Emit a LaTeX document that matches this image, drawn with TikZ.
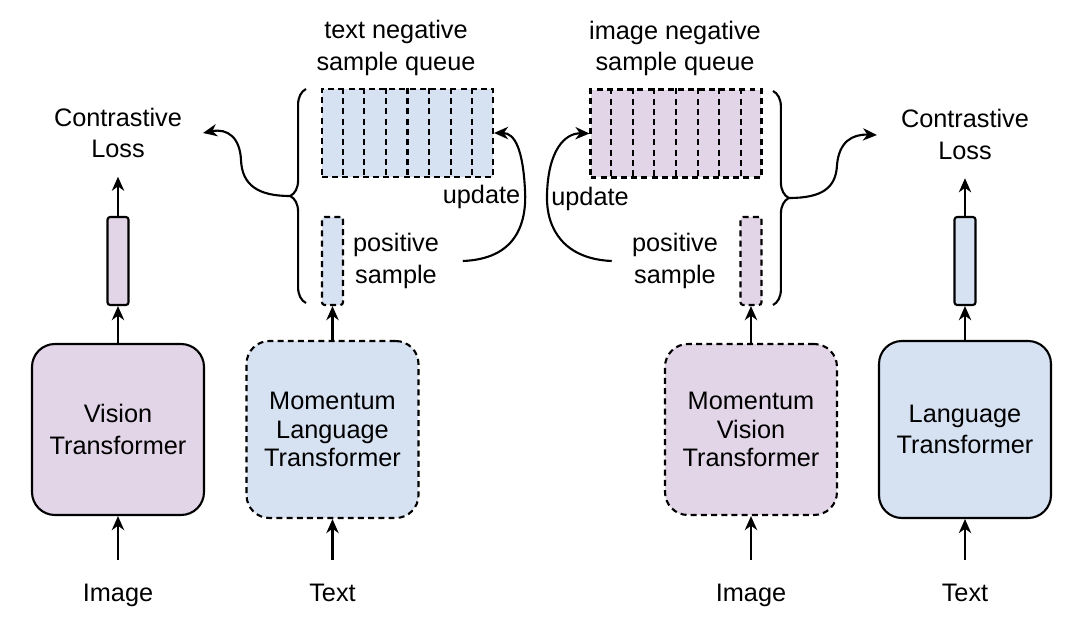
\documentclass[tikz,border=0pt]{standalone}
\usepackage{fontspec}
\setmainfont{Liberation Sans}
\usetikzlibrary{arrows.meta,calc,decorations.pathreplacing}
\definecolor{encblue}{RGB}{214,225,242}
\definecolor{encpurple}{RGB}{225,213,231}

\begin{document}
\begin{tikzpicture}[x=0.02cm, y=-0.02cm, line width=1.2pt, font=\fontsize{14.4}{18}\selectfont, >={Stealth[length=8pt,width=7pt,inset=2.5pt]},
  enc/.style={draw, rounded corners=13pt, minimum width=3.44cm, align=center},
  tight/.style={font=\fontsize{14.4}{16}\selectfont},
  dsh/.style={dash pattern=on 3.4pt off 2.4pt},
  bar/.style={draw, rounded corners=1.5pt, minimum width=0.42cm, minimum height=1.76cm},
  queue/.style={draw, dsh, minimum width=3.42cm, minimum height=1.76cm},
  lbl/.style={align=center, inner sep=0pt},
  brc/.style={decorate, decoration={brace, amplitude=9pt}}]
\useasboundingbox (0,0) rectangle (1080,636);

% encoders
\node[enc, fill=encpurple, minimum height=3.42cm] (vt) at (118,429.5) {Vision\\Transformer};
\node[enc, dsh, tight, fill=encblue, minimum height=3.54cm] (mlt) at (332.5,429.5) {Momentum\\Language\\Transformer};
\node[enc, dsh, tight, fill=encpurple, minimum height=3.42cm] (mvt) at (751,429.5) {Momentum\\Vision\\Transformer};
\node[enc, fill=encblue, minimum height=3.54cm] (lt) at (965,429.5) {Language\\Transformer};

% inputs
\node[lbl, anchor=base] (img1) at (118,601) {Image};
\node[lbl, anchor=base] (txt1) at (332.5,601) {Text};
\node[lbl, anchor=base] (img2) at (751,601) {Image};
\node[lbl, anchor=base] (txt2) at (965,601) {Text};
\draw[->, shorten <=13pt] (img1) -- (vt);
\draw[->, shorten <=13pt] (txt1) -- (mlt);
\draw[->, shorten <=13pt] (img2) -- (mvt);
\draw[->, shorten <=13pt] (txt2) -- (lt);

% features
\node[bar, fill=encpurple] (vbar) at (118,261) {};
\node[bar, dsh, fill=encblue] (tpos) at (332.5,261) {};
\node[bar, dsh, fill=encpurple] (vpos) at (751,261) {};
\node[bar, fill=encblue] (lbar) at (965,261) {};
\draw[->] (vt) -- (vbar);
\draw[->] (mlt) -- (tpos);
\draw[->] (mvt) -- (vpos);
\draw[->] (lt) -- (lbar);

% losses
\node[lbl] (closs1) at (118,133) {Contrastive\\Loss};
\node[lbl] (closs2) at (965,134.5) {Contrastive\\Loss};
\draw[->, shorten >=10pt] (vbar) -- (closs1);
\draw[->, shorten >=10pt] (lbar) -- (closs2);

% queues
\node[queue, fill=encblue] (tq) at (407.5,133) {};
\node[queue, fill=encpurple] (iq) at (676,133.5) {};
\foreach \k in {1,...,7} {
  \draw[dsh] ($(tq.north west)!\k/8!(tq.north east)$) -- ($(tq.south west)!\k/8!(tq.south east)$);
  \draw[dsh] ($(iq.north west)!\k/8!(iq.north east)$) -- ($(iq.south west)!\k/8!(iq.south east)$);
}
\node[lbl] (tqlbl) at (396,48) {text negative\\sample queue};
\node[lbl] (iqlbl) at (675,48.5) {image negative\\sample queue};
\node[lbl] (tposl) at (396,261) {positive\\sample};
\node[lbl] (vposl) at (675,261) {positive\\sample};
\node[lbl, anchor=base] (upd1) at (481.5,203) {update};
\node[lbl, anchor=base] (upd2) at (590,205) {update};

% braces
\draw[brc] (306,303) -- (306,89);
\draw[brc] (773,91) -- (773,305);
\coordinate (lbt) at (290,196);
\coordinate (rbt) at (789,198);
\coordinate (lce) at (203,133);
\coordinate (rce) at (877,135);
\draw[->] (lbt) .. controls (258,196) and (242,185) .. (241,160) .. controls (240,138) and (228,128) .. (lce);
\draw[->] (rbt) .. controls (822,198) and (836,188) .. (837,165) .. controls (839,142) and (852,134) .. (rce);

% updates
\draw[->] ([xshift=13pt]tposl.east) .. controls (515,259) and (527,225) .. (525,190) .. controls (523,150) and (515,133) .. (tq.east);
\draw[->] ([xshift=-11pt]vposl.west) .. controls (565,259) and (546,230) .. (547,195) .. controls (548,150) and (565,133) .. (iq.west);
\end{tikzpicture}
\end{document}
